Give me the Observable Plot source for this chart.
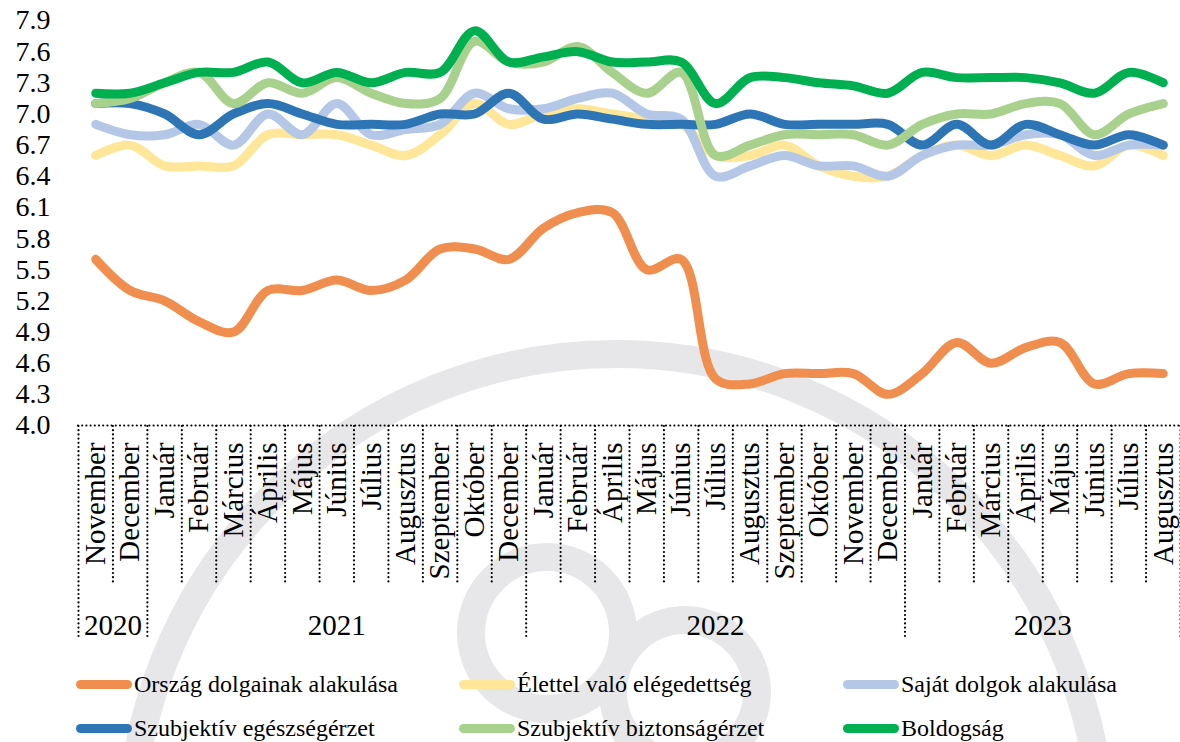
<!DOCTYPE html>
<html>
<head>
<meta charset="utf-8">
<script src="https://cdn.jsdelivr.net/npm/d3@7"></script>
<script src="https://cdn.jsdelivr.net/npm/@observablehq/plot@0.6"></script>
<style>
  body { margin: 0; background: #fff; font-family: "Times New Roman", Times, Tinos, "Liberation Serif", "DejaVu Serif", serif; }
  #wrap { position: relative; width: 1180px; height: 742px; overflow: hidden; background: #fff; }
  #wm { position: absolute; left: 0; top: 0; z-index: 0; }
  #chart { position: absolute; left: 0; top: 0; z-index: 1; }
  #chart svg, #chart text { font-family: "Times New Roman", Times, Tinos, "Liberation Serif", "DejaVu Serif", serif; }
  #legend { position: absolute; left: 0; top: 650px; width: 1180px; height: 92px; z-index: 1; }
  .item { position: absolute; display: flex; align-items: center; height: 28px; font-size: 24px; color: #000; white-space: nowrap; font-family: "Times New Roman", Times, Tinos, "Liberation Serif", "DejaVu Serif", serif; }
  .sw { width: 56px; height: 9px; border-radius: 5px; margin-right: 2px; }
</style>
</head>
<body>
<div id="wrap">
  <svg id="wm" width="1180" height="742">
    <g fill="none" stroke="#e7e7e9" stroke-width="28">
      <circle cx="616" cy="840" r="486"></circle>
      <circle cx="547" cy="633" r="76"></circle>
      <circle cx="685" cy="692" r="72"></circle>
    </g>
  </svg>
  <div id="chart"></div>
  <div id="legend"></div>
</div>
<script>
// Categories
const months = ["November","December","Január","Február","Március","Április","Május","Június","Július","Augusztus","Szeptember","Október","December","Január","Február","Április","Május","Június","Július","Augusztus","Szeptember","Október","November","December","Január","Február","Március","Április","Május","Június","Július","Augusztus"];
const years = ["2020","2021","2022","2023"];
const yearFirst = [0, 2, 13, 24];
const yearLast = [1, 12, 23, 31];
const yTicks = [4.0,4.3,4.6,4.9,5.2,5.5,5.8,6.1,6.4,6.7,7.0,7.3,7.6,7.9];

// Series
const seriesNames = ["Ország dolgainak alakulása","Élettel való elégedettség","Saját dolgok alakulása","Szubjektív egészségérzet","Szubjektív biztonságérzet","Boldogság"];
const seriesColors = ["#F08E4F","#FFE699","#B4C7E7","#2E75B6","#A9D18E","#00B050"];
const orszag   = [5.6,5.3,5.2,5.0,4.9,5.3,5.3,5.4,5.3,5.4,5.7,5.7,5.6,5.9,6.05,6.05,5.5,5.6,4.45,4.4,4.5,4.5,4.5,4.3,4.5,4.8,4.6,4.75,4.8,4.4,4.5,4.5];
const elettel  = [6.6,6.7,6.5,6.5,6.5,6.8,6.8,6.8,6.7,6.6,6.8,7.1,6.9,7.0,7.05,7.0,6.95,6.9,6.6,6.6,6.7,6.5,6.4,6.4,6.6,6.7,6.6,6.7,6.6,6.5,6.7,6.6];
const sajat    = [6.9,6.8,6.8,6.9,6.7,7.0,6.8,7.1,6.8,6.85,6.9,7.2,7.05,7.05,7.15,7.2,7.0,6.95,6.4,6.5,6.6,6.5,6.5,6.4,6.6,6.7,6.7,6.8,6.8,6.6,6.7,6.7];
const egeszseg = [7.1,7.1,7.0,6.8,7.0,7.1,7.0,6.9,6.9,6.9,7.0,7.0,7.2,6.95,7.0,6.95,6.9,6.9,6.9,7.0,6.9,6.9,6.9,6.9,6.7,6.9,6.7,6.9,6.8,6.7,6.8,6.7];
const biztonsag= [7.1,7.15,7.3,7.4,7.1,7.3,7.2,7.35,7.2,7.1,7.15,7.7,7.5,7.5,7.65,7.4,7.2,7.4,6.6,6.7,6.8,6.8,6.8,6.7,6.9,7.0,7.0,7.1,7.1,6.8,7.0,7.1];
const boldogsag= [7.2,7.2,7.3,7.4,7.4,7.5,7.3,7.4,7.3,7.4,7.4,7.8,7.5,7.55,7.6,7.5,7.5,7.5,7.1,7.35,7.35,7.3,7.27,7.2,7.4,7.35,7.35,7.35,7.3,7.2,7.4,7.3];

const seriesValues = [orszag, elettel, sajat, egeszseg, biztonsag, boldogsag];

// Derived helpers
const yearInfo = years.map((label, k) => ({label, center: (yearFirst[k] + yearLast[k]) / 2}));
const yearSeps = [-0.5, ...yearLast.map(e => e + 0.5)];
const monthSeps = d3.range(1, months.length).map(i => i - 0.5).filter(s => !yearSeps.includes(s));
const dotted = {stroke: "black", strokeWidth: 2.2, strokeDasharray: "0 4.2", strokeLinecap: "round"};
const serif = '"Times New Roman", Times, Tinos, "Liberation Serif", "DejaVu Serif", serif';

const chart = Plot.plot({
  width: 1180,
  height: 650,
  marginLeft: 78,
  marginRight: 0,
  marginTop: 20,
  marginBottom: 225,
  style: {background: "transparent", fontFamily: serif, fontSize: "28px", color: "black", overflow: "visible"},
  x: {domain: [-0.5, months.length - 0.5], axis: null},
  y: {domain: [4.0, 7.9], ticks: yTicks, tickFormat: d => d.toFixed(1), tickSize: 0, tickPadding: 28, label: null},
  marks: [
    Plot.ruleY([4.0], {...dotted}),
    Plot.ruleX(monthSeps, {x: d => d, y1: 4.0, y2: 4.0, insetTop: 1, insetBottom: -160, ...dotted}),
    Plot.ruleX(yearSeps, {x: d => d, y1: 4.0, y2: 4.0, insetTop: 1, insetBottom: -213, ...dotted}),
    Plot.text(months, {x: (d, i) => i, y: 4.0, text: d => d, rotate: -90, textAnchor: "end", lineAnchor: "middle", dy: 17, fontSize: 29, fill: "black"}),
    Plot.text(yearInfo, {x: "center", y: 4.0, text: "label", dy: 200, fontSize: 29, fill: "black"}),
    ...seriesValues.map((vals, k) => Plot.line(vals, {
      x: (d, i) => i, y: d => d,
      stroke: seriesColors[k], strokeWidth: 9, curve: "catmull-rom",
      strokeLinecap: "round", strokeLinejoin: "round"
    }))
  ]
});
document.getElementById("chart").appendChild(chart);

// Legend (HTML, below the SVG)
const legend = document.getElementById("legend");
const colX = [76, 459, 843];
const rowTop = [20, 64];
seriesNames.forEach((name, k) => {
  const item = document.createElement("div");
  item.className = "item";
  item.style.left = colX[k % 3] + "px";
  item.style.top = rowTop[Math.floor(k / 3)] + "px";
  const sw = document.createElement("div");
  sw.className = "sw";
  sw.style.background = seriesColors[k];
  const tx = document.createElement("span");
  tx.textContent = name;
  item.appendChild(sw);
  item.appendChild(tx);
  legend.appendChild(item);
});
</script>
</body>
</html>
